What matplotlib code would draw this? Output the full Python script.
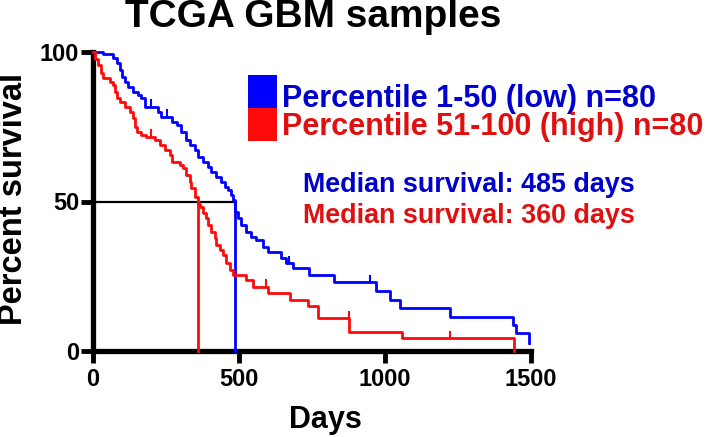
import numpy as np
import matplotlib
matplotlib.use("Agg")
import matplotlib.pyplot as plt
from matplotlib.patches import Rectangle

# Kaplan-Meier steps (days, percent survival after the step)
blue_days = [0, 34, 69, 81, 92, 98, 109, 120, 138, 155, 166, 178, 223, 234, 269, 286,
             303, 320, 331, 348, 360, 377, 394, 405, 422, 439, 451, 462, 473, 479, 485,
             496, 508, 525, 542, 559, 582, 599, 644, 661, 686, 740, 826, 968, 1016,
             1053, 1224, 1440, 1448, 1492]
blue_pct = [100, 99.2, 97.9, 96.2, 94, 91.7, 90, 88.4, 86.7, 85.6, 84.5, 81.7, 80, 78.4,
            76.7, 75.6, 73.3, 70.6, 68.9, 67.2, 65, 63.3, 61.6, 60, 58.3, 56.6, 55, 53.8,
            52.2, 50.5, 46.6, 44.4, 42.1, 39.9, 38.2, 37.1, 34.9, 33.2, 31, 29.3, 27.7,
            25.5, 23, 20.2, 17.1, 14.5, 11.5, 8.7, 6.1, 2.8]

red_days = [0, 7, 17, 29, 35, 58, 69, 75, 81, 92, 109, 126, 138, 143, 149, 166, 183, 212,
            229, 246, 263, 269, 297, 309, 320, 331, 337, 348, 360, 366, 377, 388, 394, 405,
            417, 422, 434, 445, 457, 468, 479, 525, 548, 599, 673, 736, 770, 878, 1058, 1442]
red_pct = [100, 97.5, 95.6, 92.9, 91.2, 90, 88.8, 86.5, 84.5, 83.4, 81.7, 80, 77.8, 75,
           73.3, 72.2, 71.7, 70.6, 68.9, 67.2, 65.6, 63.3, 62.2, 61.1, 58.9, 56.6, 54.4,
           51.5, 49.2, 48.3, 46, 44.4, 42.1, 39.9, 37.7, 35.5, 33.8, 32.1, 29.3, 27.1,
           25.4, 23.7, 21.5, 19.3, 17.1, 15, 10.9, 6.5, 4.2, 0]

# censored samples (tick marks)
blue_censor = [200, 252, 671, 950]
red_censor = [200, 593, 876, 1222]

median_blue = 485
median_red = 360

legend_labels = ["Percentile 1-50 (low) n=80", "Percentile 51-100 (high) n=80"]
median_labels = ["Median survival: 485 days", "Median survival: 360 days"]

x_ticks = [0, 500, 1000, 1500]
y_ticks = [0, 50, 100]

BLUE = "#0000ff"
RED = "#ff0a0a"
BLUE_TXT = "#0000cc"
RED_TXT = "#e01010"

plt.rcParams['font.family'] = ['Liberation Sans', 'DejaVu Sans']
plt.rcParams['font.weight'] = 'bold'

fig = plt.figure(figsize=(7.08, 4.37), dpi=100)
ax = fig.add_axes([93/708, 1-351/437, 438/708, 299/437])

def value_at(days, pct, t):
    i = np.searchsorted(days, t, side='right') - 1
    return pct[i]

# median guide lines
ax.plot([0, median_blue], [50, 50], color='black', lw=1.6, clip_on=False, zorder=2)
ax.plot([median_red, median_red], [50, 0], color=RED, lw=2.0, clip_on=False, zorder=3)
ax.plot([median_blue, median_blue], [50, 0], color=BLUE, lw=2.0, clip_on=False, zorder=3)

ax.step(blue_days, blue_pct, where='post', color=BLUE, lw=2.0, clip_on=False, zorder=4)
ax.step(red_days, red_pct, where='post', color=RED, lw=2.0, clip_on=False, zorder=4)

for t in blue_censor:
    v = value_at(blue_days, blue_pct, t)
    ax.plot([t, t], [v, v + 2.2], color=BLUE, lw=1.5, clip_on=False, zorder=4)
for t in red_censor:
    v = value_at(red_days, red_pct, t)
    ax.plot([t, t], [v, v + 2.2], color=RED, lw=1.5, clip_on=False, zorder=4)

ax.set_xlim(0, 1500)
ax.set_ylim(0, 100)
ax.set_xticks(x_ticks)
ax.set_yticks(y_ticks)
for s in ['top', 'right']:
    ax.spines[s].set_visible(False)
for s in ['left', 'bottom']:
    ax.spines[s].set_linewidth(3.8)
ax.tick_params(axis='both', width=3.5, length=8.5, labelsize=17)
ax.tick_params(axis='y', pad=1.5)
ax.tick_params(axis='x', pad=3.5)
for lab in ax.get_xticklabels() + ax.get_yticklabels():
    lab.set_fontweight('bold')

fig.text(313/708, 1-26.7/437, "TCGA GBM samples", ha='center', va='baseline',
         fontsize=28, fontweight='bold')
fig.text(14/708, 1-199/437, "Percent survival", rotation=90, ha='center', va='center',
         fontsize=23.5, fontweight='bold')
fig.text(325/708, 1-428/437, "Days", ha='center', va='baseline',
         fontsize=22, fontweight='bold')

# legend boxes and text
fig.add_artist(Rectangle((248/708, 1-108/437), 29/708, 33/437, transform=fig.transFigure,
                         color=BLUE, lw=0))
fig.add_artist(Rectangle((248/708, 1-141/437), 29/708, 33/437, transform=fig.transFigure,
                         color=RED, lw=0))
fig.text(282/708, 1-106.5/437, legend_labels[0], color=BLUE_TXT, fontsize=22,
         fontweight='bold', va='baseline')
fig.text(282/708, 1-135.5/437, legend_labels[1], color=RED_TXT, fontsize=22,
         fontweight='bold', va='baseline')

fig.text(303/708, 1-192/437, median_labels[0], color=BLUE_TXT, fontsize=19.4,
         fontweight='bold', va='baseline')
fig.text(303/708, 1-223/437, median_labels[1], color=RED_TXT, fontsize=19.4,
         fontweight='bold', va='baseline')

fig.savefig("out.png", dpi=100)
